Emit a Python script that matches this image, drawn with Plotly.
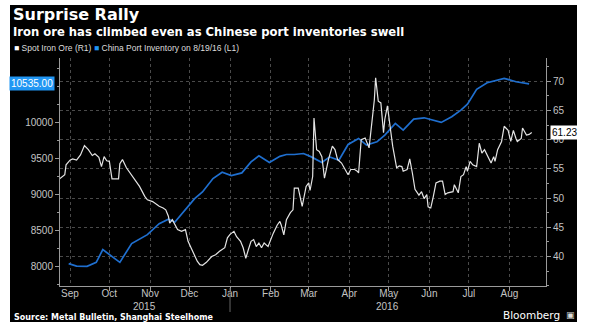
import plotly.graph_objects as go

# ---- Data ----
port_dates = ["2015-08-31", "2015-09-06", "2015-09-14", "2015-09-21", "2015-09-26", "2015-10-09",
              "2015-10-18", "2015-10-30", "2015-11-08", "2015-11-15", "2015-11-20", "2015-12-05",
              "2015-12-11", "2015-12-19", "2015-12-26", "2016-01-02", "2016-01-10", "2016-01-17",
              "2016-01-23", "2016-01-31", "2016-02-08", "2016-02-13", "2016-02-19", "2016-02-26",
              "2016-03-03", "2016-03-11", "2016-03-17", "2016-03-24", "2016-03-31", "2016-04-08",
              "2016-04-14", "2016-04-22", "2016-04-28", "2016-05-06", "2016-05-12", "2016-05-20",
              "2016-05-28", "2016-06-03", "2016-06-10", "2016-06-18", "2016-06-25", "2016-06-30",
              "2016-07-07", "2016-07-15", "2016-07-28", "2016-08-06", "2016-08-16"]
port_inventory = [8042, 8008, 8004, 8060, 8236, 8060,
                  8320, 8444, 8597, 8657, 8620, 8944,
                  9036, 9222, 9310, 9264, 9300, 9453,
                  9536, 9444, 9530, 9555, 9555, 9569,
                  9522, 9444, 9522, 9476, 9694, 9778,
                  9685, 9731, 9824, 9986, 9893, 10046,
                  10064, 10032, 10000, 10078, 10171, 10254,
                  10458, 10550, 10611, 10564, 10535]

ore_dates = ["2015-08-24", "2015-08-28", "2015-08-29", "2015-09-01", "2015-09-03", "2015-09-06",
             "2015-09-09", "2015-09-12", "2015-09-15", "2015-09-18", "2015-09-20", "2015-09-23",
             "2015-09-25", "2015-09-27", "2015-09-29", "2015-10-01", "2015-10-03", "2015-10-08",
             "2015-10-09", "2015-10-11", "2015-10-14", "2015-10-17", "2015-10-20", "2015-10-24",
             "2015-10-28", "2015-10-30", "2015-11-03", "2015-11-06", "2015-11-08", "2015-11-11",
             "2015-11-13", "2015-11-15", "2015-11-16", "2015-11-18", "2015-11-20", "2015-11-22",
             "2015-11-25", "2015-11-28", "2015-11-30", "2015-12-04", "2015-12-07", "2015-12-09",
             "2015-12-11", "2015-12-14", "2015-12-18", "2015-12-21", "2015-12-24", "2015-12-28",
             "2015-12-30", "2016-01-01", "2016-01-04", "2016-01-06", "2016-01-09", "2016-01-11",
             "2016-01-13", "2016-01-15", "2016-01-17", "2016-01-19", "2016-01-21", "2016-01-23",
             "2016-01-25", "2016-01-27", "2016-01-30", "2016-02-03", "2016-02-06", "2016-02-08",
             "2016-02-09", "2016-02-11", "2016-02-13", "2016-02-16", "2016-02-18", "2016-02-19",
             "2016-02-22", "2016-02-25", "2016-02-28", "2016-03-01", "2016-03-02", "2016-03-04",
             "2016-03-05", "2016-03-07", "2016-03-09", "2016-03-11", "2016-03-13", "2016-03-16",
             "2016-03-19", "2016-03-21", "2016-03-23", "2016-03-26", "2016-03-29", "2016-03-31",
             "2016-04-02", "2016-04-05", "2016-04-07", "2016-04-08", "2016-04-10", "2016-04-13",
             "2016-04-16", "2016-04-18", "2016-04-20", "2016-04-21", "2016-04-23", "2016-04-25",
             "2016-04-27", "2016-04-28", "2016-04-30", "2016-05-02", "2016-05-04", "2016-05-07",
             "2016-05-09", "2016-05-11", "2016-05-12", "2016-05-15", "2016-05-17", "2016-05-19",
             "2016-05-21", "2016-05-24", "2016-05-26", "2016-05-28", "2016-05-30", "2016-05-31",
             "2016-06-02", "2016-06-04", "2016-06-06", "2016-06-09", "2016-06-11", "2016-06-13",
             "2016-06-15", "2016-06-19", "2016-06-20", "2016-06-23", "2016-06-25", "2016-06-27",
             "2016-06-29", "2016-06-30", "2016-07-02", "2016-07-04", "2016-07-07", "2016-07-09",
             "2016-07-11", "2016-07-13", "2016-07-16", "2016-07-18", "2016-07-20", "2016-07-21",
             "2016-07-23", "2016-07-26", "2016-07-28", "2016-07-31", "2016-08-02", "2016-08-04",
             "2016-08-06", "2016-08-07", "2016-08-10", "2016-08-11", "2016-08-14", "2016-08-16",
             "2016-08-18"]
iron_ore = [53.3, 54.0, 55.7, 56.5, 56.7, 56.5,
            57.4, 59.0, 58.3, 57.3, 57.6, 57.0,
            55.4, 57.1, 56.4, 56.3, 53.3, 53.3,
            55.9, 56.6, 55.2, 54.3, 53.2, 52.0,
            50.3, 49.7, 49.4, 48.9, 48.6, 48.3,
            48.0, 46.9, 45.7, 46.3, 45.4, 44.6,
            44.3, 44.6, 42.6, 40.6, 39.2, 38.6,
            38.5, 39.0, 40.0, 40.3, 40.9, 41.5,
            43.2, 43.8, 44.3, 43.4, 42.6, 41.5,
            39.7, 41.2, 42.6, 42.9, 41.7, 42.3,
            41.5, 42.3, 41.7, 44.0, 45.4, 46.0,
            45.4, 43.7, 46.3, 47.5, 48.0, 51.7,
            51.7, 48.6, 52.0, 52.6, 51.3, 53.7,
            63.7, 58.3, 58.0, 57.1, 53.4, 56.6,
            58.9, 58.3, 56.6, 56.0, 54.9, 54.0,
            54.9, 54.9, 54.6, 54.3, 60.0, 60.3,
            58.6, 62.9, 66.8, 70.6, 66.6, 66.3,
            61.2, 63.5, 65.8, 62.3, 58.9, 55.2,
            55.5, 55.4, 54.6, 54.9, 56.7, 54.3,
            51.5, 50.5, 51.1, 49.9, 50.6, 48.5,
            48.3, 50.3, 52.6, 52.9, 52.9, 50.6,
            50.9, 51.1, 52.3, 50.9, 53.7, 54.0,
            55.4, 54.6, 56.3, 55.7, 55.4, 59.4,
            57.7, 58.3, 56.9, 56.0, 57.1, 56.3,
            58.3, 59.7, 62.3, 61.6, 59.7, 61.6,
            60.2, 59.7, 60.2, 62.0, 60.8, 60.9,
            61.23]

month_ticks = ["2015-09-01", "2015-10-01", "2015-11-01", "2015-12-01", "2016-01-01", "2016-02-01",
               "2016-03-01", "2016-04-01", "2016-05-01", "2016-06-01", "2016-07-01", "2016-08-01"]
left_ticks = [8000, 8500, 9000, 9500, 10000]
right_ticks = [40, 45, 50, 55, 60, 65, 70]
year_labels = ["2015", "2016"]
year_centers = ["2015-10-28", "2016-04-30"]
year_break = "2016-01-01"

TITLE = "Surprise Rally"
SUBTITLE = "Iron ore has climbed even as Chinese port inventories swell"
SOURCE = "Source: Metal Bulletin, Shanghai Steelhome"

BLUE = "#1f6fcf"
TAG_BLUE = "#2196f3"
WHITE_LINE = "#e4e4e4"
AX = "#9a9a9a"
TXT = "#c4c4c4"

fig = go.Figure()
fig.add_trace(go.Scatter(x=port_dates, y=port_inventory, mode="lines",
                         line=dict(color=BLUE, width=1.7), yaxis="y", name="China Port Inventory"))
fig.add_trace(go.Scatter(x=ore_dates, y=iron_ore, mode="lines",
                         line=dict(color=WHITE_LINE, width=1.2), yaxis="y2", name="Spot Iron Ore"))

W, H = 600, 332
ML, MR, MT, MB = 60, 54, 58, 46
PW, PH = W - ML - MR, H - MT - MB


def px(x):
    return (x - ML) / PW


def py(y):
    return (H - MB - y) / PH


fig.update_layout(
    width=W, height=H,
    margin=dict(l=ML, r=MR, t=MT, b=MB, pad=0),
    paper_bgcolor="white", plot_bgcolor="black",
    showlegend=False,
    xaxis=dict(type="date", range=["2015-08-24 09:00", "2016-08-28 21:00"],
               tickvals=month_ticks, tickformat="%b", ticklabelmode="period",
               ticks="outside", ticklen=4, tickcolor=AX, ticklabelstandoff=-6,
               showline=True, linecolor=AX, linewidth=1,
               showgrid=True, gridcolor="#4a4a4a", griddash="dot", gridwidth=1,
               tickfont=dict(family="Liberation Sans", size=10, color=TXT),
               zeroline=False),
    yaxis=dict(range=[7732, 10893], tickvals=left_ticks, tickformat="d", side="left",
               ticks="outside", ticklen=4, tickcolor=AX,
               minor=dict(dtick=250, tick0=0, ticks="outside", ticklen=2, tickcolor=AX, showgrid=False),
               showline=True, linecolor=AX, linewidth=1, showgrid=False, zeroline=False,
               tickfont=dict(family="Liberation Sans", size=10, color=TXT)),
    yaxis2=dict(range=[34.95, 73.99], tickvals=right_ticks, side="right", overlaying="y",
                ticks="outside", ticklen=4, tickcolor=AX,
                minor=dict(dtick=2.5, tick0=0, ticks="outside", ticklen=2, tickcolor=AX, showgrid=False),
                showline=True, linecolor=AX, linewidth=1,
                showgrid=True, gridcolor="#4a4a4a", griddash="dot", gridwidth=1, zeroline=False,
                tickfont=dict(family="Liberation Sans", size=10, color=TXT)),
)

shapes = [
    dict(type="rect", xref="paper", yref="paper", x0=px(10), x1=px(577), y0=py(322), y1=py(5),
         fillcolor="black", line=dict(width=0), layer="below"),
    dict(type="line", xref="x", yref="paper", x0=year_break, x1=year_break, y0=py(288), y1=py(312),
         line=dict(color="#666", width=1)),
]
fig.update_layout(shapes=shapes)

ann = []
ann.append(dict(text="<b>" + TITLE + "</b>", xref="paper", yref="paper", x=px(11), y=py(15),
                xanchor="left", yanchor="middle", showarrow=False,
                font=dict(family="DejaVu Sans", size=16, color="white")))
ann.append(dict(text="<b>" + SUBTITLE + "</b>", xref="paper", yref="paper", x=px(11), y=py(32),
                xanchor="left", yanchor="middle", showarrow=False,
                font=dict(family="DejaVu Sans", size=11.6, color="white")))
ann.append(dict(text="<span style='color:#ffffff'>■</span> Spot Iron Ore (R1)", xref="paper", yref="paper",
                x=px(12), y=py(48), xanchor="left", yanchor="middle", showarrow=False,
                font=dict(family="Liberation Sans", size=8.5, color="#dddddd")))
ann.append(dict(text="<span style='color:" + TAG_BLUE + "'>■</span> China Port Inventory on 8/19/16 (L1)",
                xref="paper", yref="paper", x=px(92), y=py(48), xanchor="left", yanchor="middle",
                showarrow=False, font=dict(family="Liberation Sans", size=8.5, color="#dddddd")))
for lbl, c in zip(year_labels, year_centers):
    ann.append(dict(text=lbl, xref="x", yref="paper", x=c, y=py(306), xanchor="center", yanchor="middle",
                    showarrow=False, font=dict(family="Liberation Sans", size=10, color=TXT)))
ann.append(dict(text="<b>" + SOURCE + "</b>", xref="paper", yref="paper", x=px(12), y=py(317),
                xanchor="left", yanchor="middle", showarrow=False,
                font=dict(family="DejaVu Sans", size=8, color="white")))
ann.append(dict(text="Bloomberg", xref="paper", yref="paper", x=px(562), y=py(315),
                xanchor="right", yanchor="middle", showarrow=False,
                font=dict(family="DejaVu Sans", size=10.5, color="white")))
ann.append(dict(text="▣", xref="paper", yref="paper", x=px(564), y=py(315),
                xanchor="left", yanchor="middle", showarrow=False,
                font=dict(family="DejaVu Sans", size=9, color="#dddddd")))
# last-value tags
ann.append(dict(text="%.2f" % port_inventory[-1], xref="paper", yref="y", x=px(55), y=port_inventory[-1],
                xanchor="right", yanchor="middle", showarrow=False, bgcolor=TAG_BLUE, borderpad=1,
                font=dict(family="Liberation Sans", size=10, color="white")))
ann.append(dict(text="%.2f" % iron_ore[-1], xref="paper", yref="y2", x=px(550), y=iron_ore[-1],
                xanchor="left", yanchor="middle", showarrow=False, bgcolor="white", borderpad=1,
                font=dict(family="Liberation Sans", size=10, color="black")))
fig.update_layout(annotations=ann)

fig.write_html("out.html")
